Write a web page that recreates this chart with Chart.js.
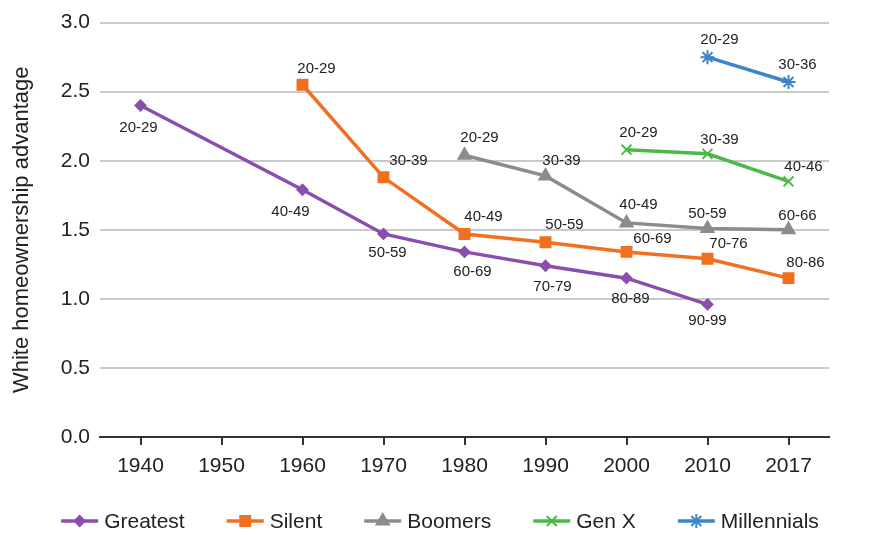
<!DOCTYPE html>
<html>
<head>
<meta charset="utf-8">
<script src="https://cdn.jsdelivr.net/npm/chart.js@4"></script>
<style>
  html, body { margin: 0; padding: 0; background: #fff; }
  #wrap { width: 874px; height: 536px; }
</style>
</head>
<body>
<div id="wrap"><canvas id="homeChart"></canvas></div>
<script>
// Census years on the x axis
const years = ['1940', '1950', '1960', '1970', '1980', '1990', '2000', '2010', '2017'];

// White homeownership advantage by generation (null = not observed)
const greatest    = [2.40, null, 1.79, 1.47, 1.34, 1.24, 1.15, 0.96, null];
const silent      = [null, null, 2.55, 1.88, 1.47, 1.41, 1.34, 1.29, 1.15];
const boomers     = [null, null, null, null, 2.04, 1.89, 1.55, 1.51, 1.50];
const genX        = [null, null, null, null, null, null, 2.08, 2.05, 1.85];
const millennials = [null, null, null, null, null, null, null, 2.75, 2.57];

// Age range labels next to each point
const greatestAges    = ['20-29', null, '40-49', '50-59', '60-69', '70-79', '80-89', '90-99', null];
const silentAges      = [null, null, '20-29', '30-39', '40-49', '50-59', '60-69', '70-76', '80-86'];
const boomersAges     = [null, null, null, null, '20-29', '30-39', '40-49', '50-59', '60-66'];
const genXAges        = [null, null, null, null, null, null, '20-29', '30-39', '40-46'];
const millennialsAges = [null, null, null, null, null, null, null, '20-29', '30-36'];

const yTicks = [0, 0.5, 1.0, 1.5, 2.0, 2.5, 3.0];

// label nudges (px) relative to the point, per series
const greatestNudge    = [[-2, 22], null, [-12, 22], [4, 19], [8, 20], [7, 21], [4, 21], [0, 16], null];
const silentNudge      = [null, null, [14, -16], [25, -16], [19, -17], [19, -17], [26, -13], [21, -15], [17, -15]];
const boomersNudge     = [null, null, null, null, [15, -17], [16, -15], [12, -18], [0, -15], [9, -14]];
const genXNudge        = [null, null, null, null, null, null, [12, -17], [12, -14], [15, -15]];
const millennialsNudge = [null, null, null, null, null, null, null, [12, -17], [9, -17]];

const FONT = '"Liberation Sans", Arial, Helvetica, sans-serif';

function series(label, data, color, style, radius, ages, nudge) {
    return {
        label: label,
        data: data,
        ages: ages,
        nudge: nudge,
        borderColor: color,
        backgroundColor: color,
        borderWidth: 3.5,
        pointStyle: style,
        pointRadius: radius,
        pointHoverRadius: radius,
        pointBorderWidth: 2,
        pointBorderColor: color,
        pointBackgroundColor: color,
        spanGaps: true,
        tension: 0,
        fill: false
    };
}

const datasets = [
    series('Greatest', greatest, '#8a4fae', 'rectRot', 5, greatestAges, greatestNudge),
    series('Silent', silent, '#f07020', 'rect', 7, silentAges, silentNudge),
    series('Boomers', boomers, '#8c8c8c', 'triangle', 7, boomersAges, boomersNudge),
    series('Gen X', genX, '#4cb848', 'crossRot', 7, genXAges, genXNudge),
    series('Millennials', millennials, '#3a86c8', 'star', 7, millennialsAges, millennialsNudge)
];

const ageLabels = {
    id: 'ageLabels',
    afterDatasetsDraw(chart) {
        const ctx = chart.ctx;
        ctx.save();
        ctx.font = '15px ' + FONT;
        ctx.fillStyle = '#222';
        ctx.textAlign = 'center';
        ctx.textBaseline = 'middle';
        chart.data.datasets.forEach((ds, i) => {
            const meta = chart.getDatasetMeta(i);
            meta.data.forEach((pt, j) => {
                if (ds.data[j] == null || !ds.ages[j]) return;
                const n = ds.nudge[j] || [0, -16];
                ctx.fillText(ds.ages[j], pt.x + n[0], pt.y + n[1]);
            });
        });
        ctx.restore();
    }
};

// legend row drawn by hand: line + marker, then the name
const lineLegend = {
    id: 'lineLegend',
    afterDraw(chart) {
        const ctx = chart.ctx;
        const iconW = 37, gap = 6, spacing = 42, y = 521;
        ctx.save();
        ctx.font = '21px ' + FONT;
        const dsList = chart.data.datasets;
        const widths = dsList.map(ds => iconW + gap + ctx.measureText(ds.label).width);
        const total = widths.reduce((a, b) => a + b, 0) + spacing * (dsList.length - 1);
        let x = 440 - total / 2;
        dsList.forEach((ds, i) => {
            ctx.strokeStyle = ds.borderColor;
            ctx.fillStyle = ds.borderColor;
            ctx.lineWidth = 3.5;
            ctx.beginPath();
            ctx.moveTo(x, y);
            ctx.lineTo(x + iconW, y);
            ctx.stroke();
            ctx.lineWidth = 2;
            Chart.helpers.drawPoint(ctx, { pointStyle: ds.pointStyle, radius: ds.pointRadius, borderWidth: 2 }, x + iconW / 2, y);
            ctx.fillStyle = '#222';
            ctx.textAlign = 'left';
            ctx.textBaseline = 'middle';
            ctx.fillText(ds.label, x + iconW + gap, y + 1);
            x += widths[i] + spacing;
        });
        ctx.restore();
    }
};

const ctx = document.getElementById('homeChart').getContext('2d');
new Chart(ctx, {
    type: 'line',
    data: { labels: years, datasets: datasets },
    plugins: [ageLabels, lineLegend],
    options: {
        responsive: true,
        maintainAspectRatio: false,
        animation: false,
        layout: { padding: { top: 11, right: 45, bottom: 53, left: 0 } },
        plugins: {
            tooltip: { enabled: false },
            legend: { display: false }
        },
        scales: {
            x: {
                offset: true,
                grid: {
                    offset: false,
                    drawOnChartArea: false,
                    drawTicks: true,
                    tickLength: 8,
                    color: '#333',
                    lineWidth: 2
                },
                border: { display: true, color: '#333', width: 2 },
                ticks: {
                    color: '#222',
                    padding: 9,
                    maxRotation: 0,
                    font: { family: FONT, size: 21 }
                },
                afterFit(scale) { scale.height = 46; }
            },
            y: {
                min: 0,
                max: 3,
                afterBuildTicks(scale) { scale.ticks = yTicks.map(v => ({ value: v })); },
                grid: {
                    color: '#c9c9c9',
                    lineWidth: 2,
                    drawTicks: false
                },
                border: { display: false },
                ticks: {
                    color: '#222',
                    padding: 10,
                    font: { family: FONT, size: 21 },
                    callback: v => Number(v).toFixed(1)
                },
                title: {
                    display: true,
                    text: 'White homeownership advantage',
                    color: '#222',
                    padding: { top: 9, bottom: 0 },
                    font: { family: FONT, size: 22 }
                },
                afterFit(scale) { scale.width = 100; }
            }
        }
    }
});
</script>
</body>
</html>
